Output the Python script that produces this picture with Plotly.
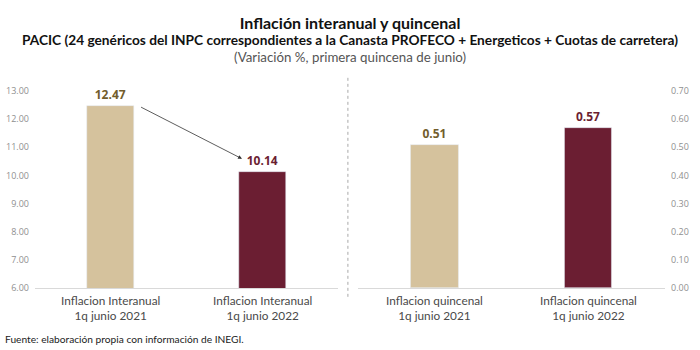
import plotly.graph_objects as go

left_categories = ["Inflacion Interanual<br>1q junio 2021", "Inflacion Interanual<br>1q junio 2022"]
left_values = [12.47, 10.14]
right_categories = ["Inflacion quincenal<br>1q junio 2021", "Inflacion quincenal<br>1q junio 2022"]
right_values = [0.51, 0.57]
left_ticks = [6, 7, 8, 9, 10, 11, 12, 13]
right_ticks = [0.0, 0.1, 0.2, 0.3, 0.4, 0.5, 0.6, 0.7]

title = "Inflación interanual y quincenal"
subtitle = "PACIC (24 genéricos del INPC correspondientes a la Canasta PROFECO + Energeticos + Cuotas de carretera)"
subsubtitle = "(Variación %, primera quincena de junio)"
source = "Fuente: elaboración propia con información de INEGI."

bar_colors = ["#D5C29D", "#6B1E32"]
label_colors = ["#725D2C", "#6B1E32"]

fig = go.Figure()
fig.add_trace(go.Bar(
    x=[0, 1], y=left_values, width=0.31,
    marker_color=bar_colors,
    text=[f"<b>{v:.2f}</b>" for v in left_values], textposition="outside",
    textfont=dict(family="Open Sans", size=12, color=label_colors),
    cliponaxis=False, xaxis="x", yaxis="y", hoverinfo="skip",
))
fig.add_trace(go.Bar(
    x=[0, 1], y=right_values, width=0.31,
    marker_color=bar_colors,
    text=[f"<b>{v:.2f}</b>" for v in right_values], textposition="outside",
    textfont=dict(family="Open Sans", size=12, color=label_colors),
    cliponaxis=False, xaxis="x2", yaxis="y2", hoverinfo="skip",
))

ydom = [0.166, 0.751]
tickfont = dict(family="Open Sans", size=9, color="#8f8f8f")

fig.update_layout(
    width=700, height=350, margin=dict(l=0, r=0, t=0, b=0),
    paper_bgcolor="white", plot_bgcolor="white", showlegend=False,
    xaxis=dict(domain=[0.05, 0.483], range=[-0.5, 1.5], showticklabels=False,
               showgrid=False, zeroline=False, showline=True, linecolor="#d9d9d9",
               ticks="", anchor="y"),
    yaxis=dict(domain=ydom, range=[6, 13], tickvals=left_ticks,
               ticktext=[f"{t:.2f}" for t in left_ticks], tickfont=tickfont, showgrid=False,
               zeroline=False, showline=False, ticks="", anchor="x", ticklabelstandoff=5),
    xaxis2=dict(domain=[0.511, 0.95], range=[-0.5, 1.5], showticklabels=False,
                showgrid=False, zeroline=False, showline=True, linecolor="#d9d9d9",
                ticks="", anchor="y2"),
    yaxis2=dict(domain=ydom, range=[0, 0.7], tickvals=right_ticks,
                ticktext=[f"{t:.2f}" for t in right_ticks], tickfont=tickfont, showgrid=False,
                zeroline=False, showline=False, ticks="", anchor="x2", side="right",
                ticklabelstandoff=5),
    bargap=0,
)

# Category labels (slightly tight line spacing: smaller base font, larger span)
for xref, cats in (("x", left_categories), ("x2", right_categories)):
    for i, label in enumerate(cats):
        txt = "<br>".join(f'<span style="font-size:11.8px">{part}</span>' for part in label.split("<br>"))
        fig.add_annotation(text=txt, x=i, xref=xref, y=1 - 313 / 350, yref="paper",
                           xanchor="center", yanchor="middle", showarrow=False, borderpad=0,
                           font=dict(family="Lato", size=11.4, color="#4a4a4a"))

# Arrow between the interannual bars
fig.add_annotation(
    x=0.866, y=left_values[1] + 0.45, ax=0.19, ay=left_values[0] - 0.02,
    xref="x", yref="y", axref="x", ayref="y",
    showarrow=True, arrowhead=2, arrowsize=1, arrowwidth=0.8, arrowcolor="#333333", text="",
)

# Divider
fig.add_shape(type="line", xref="paper", yref="paper", x0=0.497, x1=0.497, y0=0.14, y1=0.795,
              line=dict(color="#a8a8a8", width=1, dash="dot"))

header = (f'<span style="font-size:16px;color:#111111"><b>{title}</b></span><br>'
          f'<span style="font-size:13.7px;color:#111111"><b>{subtitle}</b></span><br>'
          f'<span style="font-size:13.3px;color:#555555">{subsubtitle}</span>')
fig.add_annotation(text=header, xref="paper", yref="paper",
                   x=0.5, y=1 - 33 / 350, xanchor="center", yanchor="middle", showarrow=False,
                   borderpad=0, align="center", font=dict(family="Lato", size=12.6, color="#111111"))
fig.add_annotation(text=source, xref="paper", yref="paper",
                   x=0.004, y=-0.01, xanchor="left", yanchor="bottom", showarrow=False,
                   font=dict(family="Lato", size=10.2, color="#222222"))

fig.write_html("out.html")
